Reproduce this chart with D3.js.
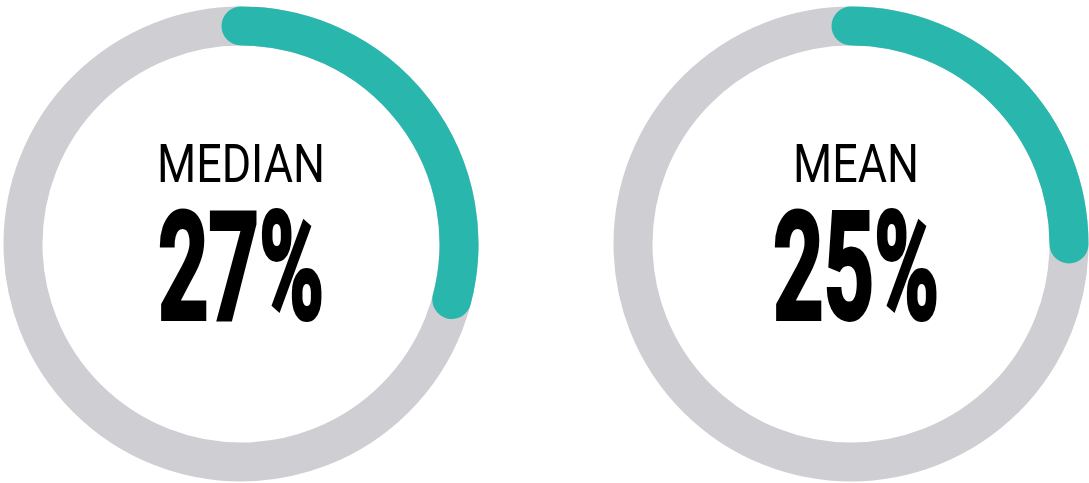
<!DOCTYPE html>
<html>
<head>
<meta charset="utf-8">
<script src="https://cdn.jsdelivr.net/npm/d3@7"></script>
<style>
  html, body { margin: 0; padding: 0; background: #ffffff; }
  svg { display: block; }
</style>
</head>
<body>
<svg id="chart" width="1089" height="483"></svg>
<script>
// ---- data ----
const labels = ["MEDIAN", "MEAN"];
const values = [27, 25];              // printed values (%)
const arcShares = [29.1, 25];         // arc extents as drawn in the picture (%)

// ---- layout ----
const centers = [[241, 244], [851, 244]];
const textNudge = [0, 5];
const rMid = 218, bandW = 39;
const grey = "#cfced3", teal = "#29b7ad";

const svg = d3.select("#chart");
const angle = d3.scaleLinear().domain([0, 100]).range([0, 2 * Math.PI]);

function arcLine(a) {
  const p = d3.path();
  p.arc(0, 0, rMid, -Math.PI / 2, -Math.PI / 2 + a);
  return p.toString();
}

const g = svg.selectAll("g.gauge")
  .data(labels.map((l, i) => ({ label: l, value: values[i], share: arcShares[i], c: centers[i], nudge: textNudge[i] })))
  .join("g")
  .attr("class", "gauge")
  .attr("transform", d => `translate(${d.c[0]},${d.c[1]})`);

g.append("circle").attr("r", rMid).attr("fill", "none")
  .attr("stroke", grey).attr("stroke-width", bandW);
g.append("path").attr("d", d => arcLine(angle(d.share)))
  .attr("fill", "none").attr("stroke", teal)
  .attr("stroke-width", bandW).attr("stroke-linecap", "round");

const labelWidths = { "MEDIAN": 168, "MEAN": 126 };

g.append("text")
  .attr("x", d => d.nudge)
  .attr("y", 182 - 244)
  .attr("text-anchor", "middle")
  .attr("font-family", "'Liberation Sans Narrow', Roboto, 'DejaVu Sans Condensed', sans-serif")
  .attr("font-size", 54)
  .attr("font-weight", 400)
  .attr("fill", "#000")
  .attr("textLength", d => labelWidths[d.label])
  .attr("lengthAdjust", "spacingAndGlyphs")
  .text(d => d.label);

g.append("text")
  .attr("x", d => d.nudge)
  .attr("y", 320 - 244 - 1.5)
  .attr("text-anchor", "middle")
  .attr("font-family", "'Liberation Sans Narrow', Roboto, 'DejaVu Sans Condensed', sans-serif")
  .attr("font-size", 150)
  .attr("font-weight", 700)
  .attr("fill", "#000")
  .attr("stroke", "#000")
  .attr("stroke-width", 4)
  .attr("stroke-linejoin", "miter")
  .attr("textLength", 166)
  .attr("lengthAdjust", "spacingAndGlyphs")
  .text(d => d.value + "%");
</script>
</body>
</html>
